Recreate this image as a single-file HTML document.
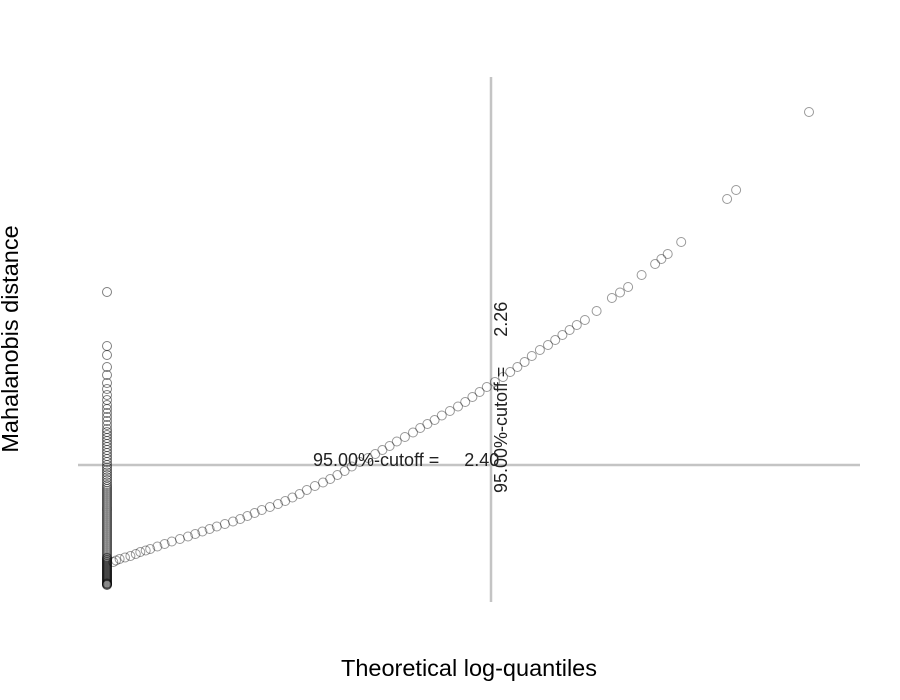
<!DOCTYPE html>
<html><head><meta charset="utf-8"><style>
html,body{margin:0;padding:0;background:#fff;}
svg{display:block;font-family:"Liberation Sans",Arial,sans-serif;}
text{white-space:pre;}
</style></head><body>
<svg id="chart" width="900" height="700" viewBox="0 0 900 700">
<line x1="78" y1="465" x2="860" y2="465" stroke="#c4c4c4" stroke-width="2.5"/>
<line x1="491" y1="77" x2="491" y2="602" stroke="#c4c4c4" stroke-width="2.5"/>
<g id="points"></g>
<text x="313" y="466" font-size="18" fill="#222" xml:space="preserve">95.00%-cutoff =     2.40</text>
<text transform="translate(507,493) rotate(-90)" font-size="18" fill="#222" xml:space="preserve">95.00%-cutoff =      2.26</text>
<text x="469" y="676" font-size="23.5" text-anchor="middle" fill="#000">Theoretical log-quantiles</text>
<text transform="translate(18,339) rotate(-90)" font-size="23.5" text-anchor="middle" fill="#000">Mahalanobis distance</text>
</svg>
<script>
const curveX=[-1.93,-1.90,-1.86,-1.80,-1.74,-1.68,-1.63,-1.57,-1.52,-1.44,-1.36,-1.28,-1.19,-1.10,-1.02,-0.94,-0.86,-0.78,-0.69,-0.60,-0.52,-0.44,-0.36,-0.28,-0.19,-0.10,-0.02,0.06,0.14,0.22,0.31,0.40,0.48,0.56,0.64,0.72,0.81,0.90,0.98,1.06,1.14,1.22,1.31,1.40,1.48,1.56,1.64,1.72,1.81,1.90,1.98,2.06,2.14,2.22,2.31,2.40,2.48,2.56,2.64,2.72,2.81,2.90,2.98,3.06,3.14,3.22,3.31,3.44,3.61,3.70,3.79,3.94,4.09,4.16,4.23,4.38,4.89,4.99,5.80];
const curveY=[0.46,0.49,0.52,0.55,0.58,0.62,0.66,0.69,0.72,0.77,0.82,0.87,0.92,0.97,1.02,1.07,1.12,1.17,1.22,1.27,1.32,1.38,1.44,1.50,1.56,1.62,1.68,1.75,1.82,1.90,1.98,2.05,2.12,2.20,2.28,2.37,2.46,2.54,2.62,2.70,2.78,2.87,2.96,3.05,3.14,3.22,3.30,3.39,3.48,3.57,3.66,3.76,3.86,3.96,4.06,4.16,4.26,4.36,4.46,4.58,4.70,4.80,4.90,5.00,5.10,5.20,5.30,5.48,5.74,5.85,5.96,6.20,6.42,6.52,6.62,6.86,7.72,7.90,9.46];
const colX=-2.0;
const colY=[0,0.01,0.02,0.03,0.04,0.06,0.08,0.1,0.12,0.14,0.16,0.18,0.2,0.22,0.24,0.26,0.28,0.3,0.32,0.34,0.36,0.38,0.4,0.42,0.44,0.46,0.48,0.5,0.52,0.54,0.56,0.6,0.64,0.68,0.72,0.76,0.8,0.84,0.88,0.92,0.96,1.0,1.04,1.08,1.12,1.16,1.2,1.24,1.28,1.32,1.36,1.4,1.44,1.48,1.52,1.56,1.6,1.64,1.68,1.72,1.76,1.8,1.84,1.88,1.92,1.96,2.0,2.05,2.1,2.15,2.2,2.25,2.3,2.35,2.4,2.46,2.52,2.58,2.64,2.7,2.76,2.82,2.88,2.94,3.0,3.06,3.12,3.2,3.28,3.36,3.44,3.52,3.6,3.7,3.8,3.92,4.04,4.2,4.36,4.6,4.78,5.86];
function sx(v){return 107+(v+2)*90;}
function sy(v){return 585-v*50;}
const g=document.getElementById('points');
const NS='http://www.w3.org/2000/svg';
function addPt(x,y,name,op){
  const c=document.createElementNS(NS,'circle');
  c.setAttribute('cx',sx(x));c.setAttribute('cy',sy(y));c.setAttribute('r',4.5);
  c.setAttribute('fill','none');c.setAttribute('stroke','#000');c.setAttribute('stroke-opacity',op);
  
  
  g.appendChild(c);
}
for(let i=0;i<colY.length;i++){addPt(colX,colY[i],'column-point',0.5);}
for(let i=0;i<curveX.length;i++){addPt(curveX[i],curveY[i],'curve-point',0.4);}
</script>
</body></html>
